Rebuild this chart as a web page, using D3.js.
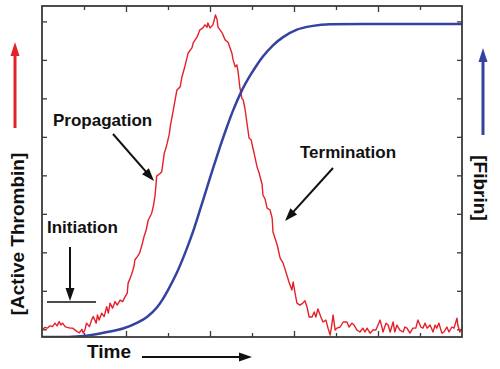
<!DOCTYPE html>
<html><head><meta charset="utf-8">
<script src="https://cdn.jsdelivr.net/npm/d3@7"></script>
<style>
body{margin:0;background:#fff}
svg{display:block}
text{font-family:"Liberation Sans",Arial,Helvetica,sans-serif;font-weight:bold;fill:#111}
</style>
</head><body>
<svg id="c" width="500" height="369"></svg>
<script>
// ---- data (arbitrary units) ----
const thrombinTime = [0.02,0.07,0.13,0.19,0.25,0.31,0.36,0.41,0.45,0.49,0.55,0.60,0.67,0.73,0.79,0.84,0.89,0.95,0.98,1.02,
1.06,1.13,1.18,1.22,1.29,1.32,1.36,1.42,1.48,1.54,1.58,1.62,1.68,1.74,1.79,1.86,1.92,1.98,2.03,2.05,
2.10,2.14,2.19,2.21,2.27,2.32,2.37,2.43,2.48,2.53,2.61,2.65,2.69,2.71,2.73,2.81,2.85,2.89,2.91,2.95,
2.98,3.03,3.06,3.10,3.17,3.21,3.29,3.33,3.40,3.48,3.57,3.60,3.69,3.76,3.83,3.88,3.93,3.95,4.00,4.07,
4.13,4.17,4.19,4.29,4.36,4.43,4.52,4.55,4.60,4.64,4.67,4.71,4.76,4.79,4.83,4.88,4.93,4.98,5.02,5.05,
5.12,5.17,5.24,5.26,5.31,5.36,5.43,5.48,5.50,5.60,5.67,5.74,5.83,5.88,5.95,5.98,6.02,6.07,6.14,6.21,
6.26,6.31,6.36,6.43,6.48,6.52,6.57,6.64,6.69,6.76,6.81,6.86,6.90,6.93,6.98,7.02,7.10,7.17,7.26,7.31,
7.38,7.43,7.50,7.57,7.64,7.69,7.74,7.81,7.88,7.95,8.00,8.05,8.10,8.12,8.19,8.24,8.29,8.36,8.40,8.45,
8.52,8.60,8.64,8.69,8.76,8.83,8.90,8.95,9.02,9.07,9.12,9.17,9.24,9.31,9.36,9.40,9.45,9.52,9.57,9.64,
9.69,9.76,9.81,9.88,9.90,9.95,10.0];
const thrombinValue = [0.0,0.5,0.3,0.9,0.7,1.6,0.9,2.0,1.1,1.6,0.7,0.5,0.3,0.3,-0.2,-0.6,-0.9,0.0,-1.0,-0.2,
1.6,0.7,2.4,3.3,1.6,3.7,2.4,4.2,3.3,5.9,4.2,6.8,5.5,7.2,6.3,7.6,7.2,8.5,9.4,12.0,
13.3,14.5,16.3,18.0,18.9,19.7,21.5,24.1,25.8,28.4,30.1,31.9,34.6,37.0,39.8,40.5,40.9,44.0,45.7,47.1,
48.3,50.7,53.1,55.4,59.6,62.1,63.0,65.5,68.2,71.8,73.1,74.4,75.9,77.8,78.3,79.1,78.5,79.6,78.3,79.1,
81.7,80.4,78.5,77.0,75.2,74.6,71.8,70.0,68.2,68.7,66.8,62.9,60.0,59.6,57.5,53.6,49.7,49.2,47.1,45.8,
42.2,40.6,37.7,34.9,33.9,31.5,31.0,28.9,25.3,21.9,18.5,17.2,14.1,12.3,10.2,12.3,9.7,6.8,6.3,6.8,
7.4,5.8,3.2,3.2,4.5,3.2,5.3,3.2,1.9,2.4,0.3,-1.5,1.1,3.7,-0.2,0.3,0.6,1.9,1.9,0.6,
1.6,1.1,-0.2,-0.7,0.3,-0.7,0.3,-1.0,-0.2,-0.2,1.1,2.4,0.3,-0.7,1.6,1.1,-0.7,1.9,-0.7,1.1,
-0.2,-0.7,0.6,0.3,-1.0,0.3,0.3,2.4,0.6,0.3,1.6,0.3,1.1,-0.7,1.1,0.3,1.6,-1.0,-0.7,0.6,
-0.7,0.6,0.3,2.9,1.1,-0.7,0.3];

const fibrinTime  = [0,0.43,0.83,1.14,1.55,1.93,2.26,2.5,2.74,2.88,3.0,3.21,3.45,3.6,3.76,3.93,4.07,4.24,4.40,4.55,4.76,4.95,5.10,5.26,5.5,5.74,6.07,6.45,6.86,7.64,8.45,9.24,10];
const fibrinValue = [0,0,0.002,0.006,0.016,0.027,0.045,0.064,0.095,0.122,0.150,0.205,0.283,0.338,0.405,0.478,0.538,0.608,0.670,0.724,0.788,0.834,0.866,0.896,0.932,0.958,0.982,0.994,0.999,1.0,1.0,1.0,1.0];

const xMajorTicks = [2,4,6,8];
const xMinorTicks = [1,3,5,7,9];
const yTicks = [0,10,20,30,40,50,60,70,80];

const labels = {y1:"[Active Thrombin]", y2:"[Fibrin]", x:"Time",
  phases:["Initiation","Propagation","Termination"]};

// ---- layout ----
const L=42,R=462,T=6,B=337;
const svg=d3.select("#c");
const x=d3.scaleLinear().domain([0,10]).range([L,R]);
const yT=d3.scaleLinear().domain([-2,84]).range([B,T]);
const yF=d3.scaleLinear().domain([0,1]).range([B,24]);

const red="#e5202a", blue="#3542a0", axisCol="#3a3a3a";

// axes (ticks inward)
function styleAxis(g){g.select(".domain").remove();g.selectAll("line").attr("stroke",axisCol).attr("stroke-width",1.3);}
svg.append("g").attr("transform",`translate(0,${B})`).call(d3.axisBottom(x).tickValues(xMajorTicks).tickSize(-6).tickFormat("")).call(styleAxis);
svg.append("g").attr("transform",`translate(0,${B})`).call(d3.axisBottom(x).tickValues(xMinorTicks).tickSize(-4).tickFormat("")).call(styleAxis);
svg.append("g").attr("transform",`translate(0,${T})`).call(d3.axisTop(x).tickValues(xMajorTicks).tickSize(-6).tickFormat("")).call(styleAxis);
svg.append("g").attr("transform",`translate(0,${T})`).call(d3.axisTop(x).tickValues(xMinorTicks).tickSize(-4).tickFormat("")).call(styleAxis);
svg.append("g").attr("transform",`translate(${L},0)`).call(d3.axisLeft(yT).tickValues(yTicks).tickSize(-5).tickFormat("")).call(styleAxis);
svg.append("g").attr("transform",`translate(${R},0)`).call(d3.axisRight(yT).tickValues(yTicks).tickSize(-5).tickFormat("")).call(styleAxis);

// curves
svg.append("clipPath").attr("id","pc").append("rect").attr("x",L).attr("y",T).attr("width",R-L).attr("height",B-T);
const red_pts=thrombinTime.map((t,i)=>[t,thrombinValue[i]]);
const blue_pts=fibrinTime.map((t,i)=>[t,fibrinValue[i]]);
svg.append("path").attr("clip-path","url(#pc)").attr("d",d3.line().x(d=>x(d[0])).y(d=>yT(d[1]))(red_pts))
  .attr("fill","none").attr("stroke",red).attr("stroke-width",1.4).attr("stroke-linejoin","round");
svg.append("path").attr("clip-path","url(#pc)").attr("d",d3.line().curve(d3.curveMonotoneX).x(d=>x(d[0])).y(d=>yF(d[1]))(blue_pts))
  .attr("fill","none").attr("stroke",blue).attr("stroke-width",2.5);

// frame
svg.append("rect").attr("x",L).attr("y",T).attr("width",R-L).attr("height",B-T)
  .attr("fill","none").attr("stroke",axisCol).attr("stroke-width",1.8);

// arrows
function arrow(x1,y1,x2,y2,col,sw,hl,hw){
  const a=Math.atan2(y2-y1,x2-x1), c=Math.cos(a), s=Math.sin(a);
  const bx=x2-hl*c, by=y2-hl*s;
  svg.append("line").attr("x1",x1).attr("y1",y1).attr("x2",bx+c).attr("y2",by+s).attr("stroke",col).attr("stroke-width",sw);
  svg.append("path").attr("d",`M${x2},${y2}L${bx-hw/2*s},${by+hw/2*c}L${bx+hw/2*s},${by-hw/2*c}Z`).attr("fill",col);
}
arrow(15,128,15,42,red,3,14,9);
arrow(483,135,483,48,blue,3,14,9);
arrow(142,357,252,357,"#111",2,13,9);
arrow(113,134,154,181,"#111",2,13,9);
arrow(333,168,285,221,"#111",2,13,9);
arrow(70,247,70,301,"#111",2,13,9);
svg.append("line").attr("x1",47).attr("x2",96).attr("y1",302).attr("y2",302).attr("stroke","#111").attr("stroke-width",1.5);

// texts
svg.append("text").attr("transform","translate(24,234) rotate(-90)").attr("text-anchor","middle").attr("font-size",19).text(labels.y1);
svg.append("text").attr("transform","translate(474,188) rotate(90)").attr("text-anchor","middle").attr("font-size",19).text(labels.y2);
svg.append("text").attr("x",87).attr("y",358).attr("font-size",19).text(labels.x);
svg.append("text").attr("x",47).attr("y",233).attr("font-size",17).text(labels.phases[0]);
svg.append("text").attr("x",53).attr("y",126).attr("font-size",17).text(labels.phases[1]);
svg.append("text").attr("x",300).attr("y",158).attr("font-size",17).text(labels.phases[2]);
</script>
</body></html>
